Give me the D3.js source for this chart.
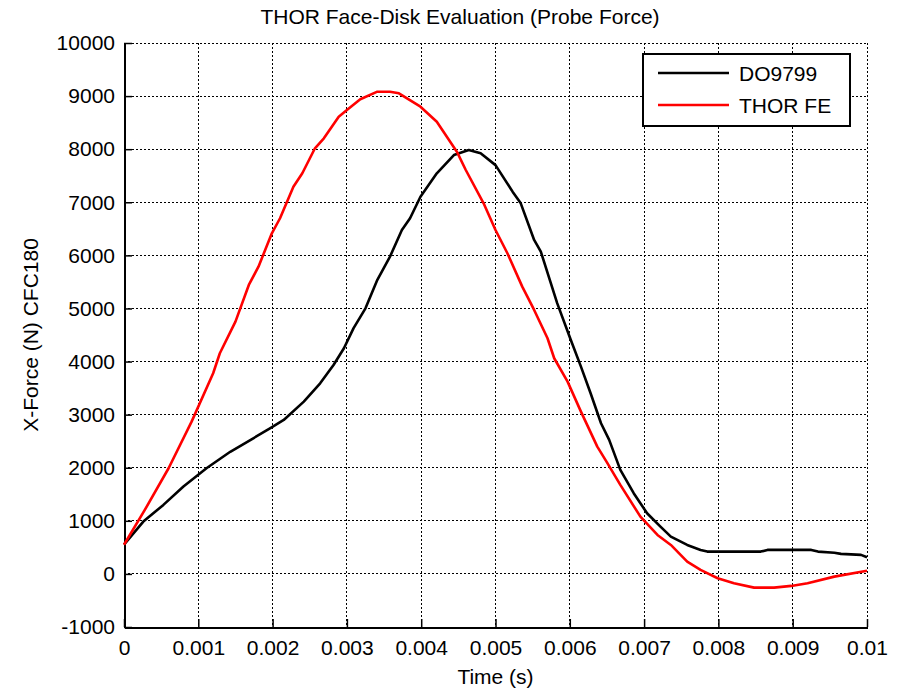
<!DOCTYPE html>
<html>
<head>
<meta charset="utf-8">
<script src="https://cdn.jsdelivr.net/npm/d3@7"></script>
<style>
  html, body { margin: 0; padding: 0; background: #fff; }
  svg { display: block; }
  text { font-family: "Liberation Sans", Arial, sans-serif; fill: #000; }
</style>
</head>
<body>
<svg id="chart" width="901" height="690"></svg>
<script>
// ---- Data ----
const xTicks = [0, 0.001, 0.002, 0.003, 0.004, 0.005, 0.006, 0.007, 0.008, 0.009, 0.01];
const xTickLabels = ["0", "0.001", "0.002", "0.003", "0.004", "0.005", "0.006", "0.007", "0.008", "0.009", "0.01"];
const yTicks = [-1000, 0, 1000, 2000, 3000, 4000, 5000, 6000, 7000, 8000, 9000, 10000];
const yTickLabels = ["-1000", "0", "1000", "2000", "3000", "4000", "5000", "6000", "7000", "8000", "9000", "10000"];

const seriesNames = ["DO9799", "THOR FE"];

const doTime = [0, 0.00026, 0.00053, 0.0008, 0.00111, 0.00143, 0.00174, 0.00197, 0.00215, 0.00242,
  0.00264, 0.00282, 0.00296, 0.00309, 0.00325, 0.00341, 0.00358, 0.00374, 0.00385, 0.00399,
  0.00421, 0.00444, 0.00464, 0.0048, 0.0050, 0.00523, 0.00534, 0.00552, 0.00561, 0.00583,
  0.00601, 0.00615, 0.00628, 0.00642, 0.00653, 0.00668, 0.00686, 0.00704, 0.00722, 0.00736,
  0.00758, 0.00776, 0.00785, 0.00857, 0.00866, 0.00925, 0.00934, 0.00956, 0.00965, 0.00992, 0.0100];
const doForce = [550, 985, 1300, 1645, 1990, 2300, 2555, 2745, 2900, 3245,
  3590, 3935, 4250, 4630, 5003, 5540, 5976, 6478, 6700, 7105,
  7546, 7890, 7985, 7923, 7700, 7200, 6980, 6290, 6070, 5100,
  4420, 3904, 3403, 2838, 2524, 1959, 1520, 1143, 891, 703,
  546, 452, 420, 420, 452, 452, 420, 400, 377, 358, 314];

const feTime = [0, 0.00028, 0.0006, 0.00091, 0.0012, 0.00129, 0.0015, 0.00168, 0.00181, 0.00199,
  0.0021, 0.00228, 0.0024, 0.00257, 0.00269, 0.00289, 0.0030, 0.00318, 0.00341, 0.00358,
  0.0037, 0.00399, 0.00421, 0.00448, 0.0046, 0.00484, 0.0050, 0.00516, 0.00536, 0.00552,
  0.0057, 0.00579, 0.00597, 0.00615, 0.00637, 0.0065, 0.00668, 0.00695, 0.00718, 0.00736,
  0.00758, 0.00776, 0.00799, 0.00821, 0.00848, 0.00875, 0.00898, 0.0092, 0.00956, 0.0100];
const feForce = [550, 1205, 1990, 2868, 3780, 4156, 4752, 5443, 5787, 6416,
  6699, 7294, 7546, 8017, 8205, 8612, 8738, 8940, 9083, 9083,
  9052, 8800, 8518, 7953, 7608, 6981, 6478, 6040, 5411, 4972,
  4439, 4062, 3622, 3057, 2398, 2100, 1676, 1079, 734, 546,
  232, 75, -81, -175, -258, -258, -226, -175, -51, 60];

// ---- Layout ----
const svg = d3.select("#chart");
const pLeft = 124, pRight = 867, pTop = 43, pBottom = 627;
const fontSize = 21;

const x = d3.scaleLinear().domain([0, 0.01]).range([pLeft, pRight]);
const y = d3.scaleLinear().domain([-1000, 10000]).range([pBottom, pTop]);

// Grid (dotted)
const grid = svg.append("g").attr("shape-rendering", "crispEdges");
xTicks.forEach(t => {
  grid.append("line")
    .attr("x1", x(t)).attr("x2", x(t)).attr("y1", pTop).attr("y2", pBottom)
    .attr("stroke", "#000").attr("stroke-width", 1).attr("stroke-dasharray", "2,2");
});
yTicks.forEach(t => {
  grid.append("line")
    .attr("x1", pLeft).attr("x2", pRight).attr("y1", y(t)).attr("y2", y(t))
    .attr("stroke", "#000").attr("stroke-width", 1).attr("stroke-dasharray", "2,2");
});

// Axes
const xAxis = d3.axisBottom(x).tickValues(xTicks).tickFormat((d, i) => xTickLabels[i])
  .tickSizeInner(-8).tickSizeOuter(0).tickPadding(13);
const yAxis = d3.axisLeft(y).tickValues(yTicks).tickFormat((d, i) => yTickLabels[i])
  .tickSizeInner(-8).tickSizeOuter(0).tickPadding(9);

const gx = svg.append("g").attr("transform", `translate(0,${pBottom})`).call(xAxis);
const gy = svg.append("g").attr("transform", `translate(${pLeft},0)`).call(yAxis);
[gx, gy].forEach(g => {
  g.select(".domain").attr("stroke", "#000").attr("stroke-width", 2).attr("shape-rendering", "crispEdges");
  g.selectAll(".tick line").attr("stroke", "#000").attr("stroke-width", 1.5);
  g.selectAll(".tick text").attr("font-size", fontSize)
    .attr("font-family", "Liberation Sans, Arial, sans-serif").attr("fill", "#000");
});

// Lines
const line = d3.line().x(d => x(d[0])).y(d => y(d[1]));
const doData = doTime.map((t, i) => [t, doForce[i]]);
const feData = feTime.map((t, i) => [t, feForce[i]]);

svg.append("path").datum(doData).attr("d", line)
  .attr("fill", "none").attr("stroke", "#000").attr("stroke-width", 2.6)
  .attr("stroke-linejoin", "round");
svg.append("path").datum(feData).attr("d", line)
  .attr("fill", "none").attr("stroke", "#ff0000").attr("stroke-width", 2.6)
  .attr("stroke-linejoin", "round");

// Title and labels
svg.append("text").attr("x", 460).attr("y", 24).attr("text-anchor", "middle")
  .attr("font-size", fontSize).text("THOR Face-Disk Evaluation (Probe Force)");
svg.append("text").attr("x", (pLeft + pRight) / 2).attr("y", 684).attr("text-anchor", "middle")
  .attr("font-size", fontSize).text("Time (s)");
svg.append("text").attr("transform", `translate(38,${(pTop + pBottom) / 2}) rotate(-90)`)
  .attr("text-anchor", "middle").attr("font-size", fontSize).text("X-Force (N) CFC180");

// Legend
const lg = svg.append("g");
lg.append("rect").attr("x", 643).attr("y", 54).attr("width", 207).attr("height", 72)
  .attr("fill", "#fff").attr("stroke", "#000").attr("stroke-width", 2).attr("shape-rendering", "crispEdges");
const legendColors = ["#000", "#ff0000"];
seriesNames.forEach((name, i) => {
  const ly = 73 + i * 32;
  lg.append("line").attr("x1", 658).attr("x2", 729).attr("y1", ly).attr("y2", ly)
    .attr("stroke", legendColors[i]).attr("stroke-width", 2.6);
  lg.append("text").attr("x", 739).attr("y", ly + 8).attr("font-size", fontSize).text(name);
});
</script>
</body>
</html>
